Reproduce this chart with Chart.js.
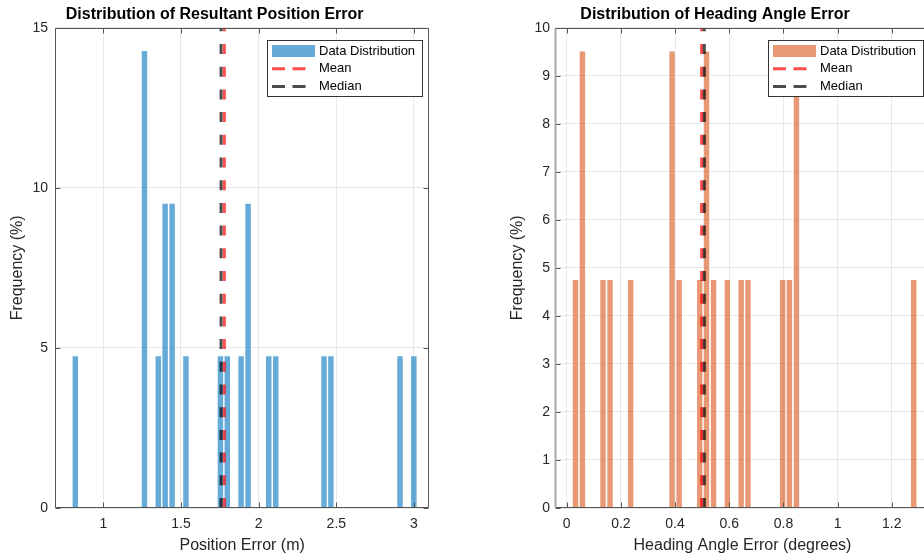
<!DOCTYPE html>
<html>
<head>
<meta charset="utf-8">
<script src="https://cdn.jsdelivr.net/npm/chart.js@4.4.1/dist/chart.umd.min.js"></script>
<style>
  html, body { margin: 0; padding: 0; background: #fff; overflow: hidden; }
  #wrap { position: relative; width: 924px; height: 560px; overflow: hidden; }
  .panel { position: absolute; top: 0; width: 440px; height: 560px; }
  #left { left: 0; }
  #right { left: 500px; }
</style>
</head>
<body>
<div id="wrap">
  <div class="panel" id="left"><canvas id="posChart" width="440" height="560"></canvas></div>
  <div class="panel" id="right"><canvas id="headChart" width="440" height="560"></canvas></div>
</div>
<script>
// resultant position error histogram (bin centres in m, frequency in %)
const posBins = [0.820, 1.265, 1.354, 1.398, 1.443, 1.532, 1.754, 1.798, 1.887, 1.932, 2.065, 2.110, 2.421, 2.465, 2.910, 2.999];
const posFreq = [4.76, 14.29, 4.76, 9.52, 9.52, 4.76, 4.76, 4.76, 4.76, 9.52, 4.76, 4.76, 4.76, 4.76, 4.76, 4.76];
const posMean = 1.779;
const posMedian = 1.758;
const posXTicks = [1, 1.5, 2, 2.5, 3];
const posYTicks = [0, 5, 10, 15];

// heading angle error histogram (bin centres in degrees, frequency in %)
const headBins = [0.0325, 0.058, 0.134, 0.160, 0.236, 0.389, 0.415, 0.491, 0.516, 0.542, 0.593, 0.644, 0.669, 0.797, 0.822, 0.848, 1.281];
const headFreq = [4.76, 9.52, 4.76, 4.76, 4.76, 9.52, 4.76, 4.76, 9.52, 4.76, 4.76, 4.76, 4.76, 4.76, 4.76, 9.52, 4.76];
const headMean = 0.498;
const headMedian = 0.508;
const headXTicks = [0, 0.2, 0.4, 0.6, 0.8, 1, 1.2];
const headYTicks = [0, 1, 2, 3, 4, 5, 6, 7, 8, 9, 10];

Chart.defaults.font.family = '"Liberation Sans", Arial, sans-serif';

// box round the axes with MATLAB style inward ticks
const axesBox = {
    id: 'axesBox',
    afterDatasetsDraw(chart, args, opts) {
        const { ctx, chartArea: a, scales: { x, y } } = chart;
        const l = Math.round(a.left) + 0.5, r = Math.round(a.right) - 0.5;
        const t = Math.round(a.top) + 0.5, b = Math.round(a.bottom) - 0.5;
        ctx.save();
        ctx.strokeStyle = opts.color;
        ctx.lineWidth = 1;
        ctx.beginPath();
        x.ticks.forEach(tk => {
            const px = Math.round(x.getPixelForValue(tk.value)) + 0.5;
            ctx.moveTo(px, b); ctx.lineTo(px, b - 5);
            ctx.moveTo(px, t); ctx.lineTo(px, t + 5);
        });
        y.ticks.forEach(tk => {
            const py = Math.round(y.getPixelForValue(tk.value)) + 0.5;
            ctx.moveTo(l, py); ctx.lineTo(l + 5, py);
            ctx.moveTo(r, py); ctx.lineTo(r - 5, py);
        });
        ctx.moveTo(l, t); ctx.lineTo(r, t);
        ctx.lineTo(r, b); ctx.lineTo(l, b);
        ctx.stroke();
        ctx.strokeStyle = opts.leftColor;
        ctx.lineWidth = opts.leftWidth;
        ctx.beginPath();
        ctx.moveTo(l, t); ctx.lineTo(l, b);
        ctx.stroke();
        ctx.restore();
    }
};

// legend box in the upper right corner of the plot
const boxLegend = {
    id: 'boxLegend',
    afterDraw(chart) {
        const { ctx, chartArea: a } = chart;
        const w = 155, h = 56;
        const x0 = Math.round(a.right - 7 - w), y0 = Math.round(a.top + 12);
        ctx.save();
        ctx.fillStyle = '#fff';
        ctx.fillRect(x0, y0, w, h);
        ctx.strokeStyle = '#333';
        ctx.lineWidth = 1;
        ctx.strokeRect(x0 + 0.5, y0 + 0.5, w, h);
        ctx.font = '13px "Liberation Sans", Arial, sans-serif';
        ctx.textBaseline = 'middle';
        chart.data.datasets.forEach((ds, i) => {
            const cy = y0 + 11 + i * 17.8;
            const sx = x0 + 5;
            if (ds.type === 'line') {
                ctx.strokeStyle = ds.borderColor;
                ctx.lineWidth = 3;
                ctx.setLineDash([13, 7.5]);
                ctx.beginPath();
                ctx.moveTo(sx, cy); ctx.lineTo(sx + 34, cy);
                ctx.stroke();
                ctx.setLineDash([]);
            } else {
                ctx.fillStyle = ds.backgroundColor;
                ctx.fillRect(sx, cy - 6, 43, 12);
            }
            ctx.fillStyle = '#000';
            ctx.fillText(ds.label, x0 + 52, cy);
        });
        ctx.restore();
    }
};

function vline(label, xv, top, color, order) {
    return {
        type: 'line',
        label: label,
        data: [{ x: xv, y: 0 }, { x: xv, y: top }],
        borderColor: color,
        borderWidth: 3,
        borderDash: [10, 12.7],
        pointRadius: 0,
        order: order
    };
}

function makeHistogram(id, cfg) {
    const yMax = cfg.yTicks[cfg.yTicks.length - 1];
    return new Chart(document.getElementById(id), {
        type: 'bar',
        data: {
            datasets: [
                {
                    label: 'Data Distribution',
                    data: cfg.bins.map((b, i) => ({ x: b, y: cfg.freq[i] })),
                    backgroundColor: cfg.barColor,
                    borderColor: 'rgba(255,255,255,0.45)',
                    borderWidth: 1,
                    barPercentage: 1,
                    categoryPercentage: 1,
                    order: 3
                },
                vline('Mean', cfg.mean, yMax, 'rgba(255,0,0,0.7)', 2),
                vline('Median', cfg.median, yMax, 'rgba(0,0,0,0.7)', 1)
            ]
        },
        options: {
            responsive: false,
            animation: false,
            events: [],
            layout: { padding: { left: 0, right: cfg.padRight, top: 0, bottom: 0 } },
            plugins: {
                legend: { display: false },
                tooltip: { enabled: false },
                title: {
                    display: true,
                    text: cfg.title,
                    color: '#000',
                    font: { size: 16, weight: 'bold' },
                    padding: { top: 5, bottom: 3.5 }
                },
                axesBox: { color: '#555', leftColor: cfg.leftAxisColor, leftWidth: cfg.leftAxisWidth }
            },
            scales: {
                x: {
                    type: 'linear',
                    min: cfg.xMin,
                    max: cfg.xMax,
                    offset: false,
                    grid: { color: 'rgba(0,0,0,0.09)', drawTicks: false, offset: false },
                    border: { display: false },
                    afterBuildTicks: s => { s.ticks = cfg.xTicks.map(v => ({ value: v })); },
                    afterFit: s => { s.height = 52; },
                    ticks: { padding: 8, color: '#262626', font: { size: 14 }, callback: v => String(v) },
                    title: {
                        display: true, text: cfg.xTitle, color: '#262626',
                        font: { size: 16 }, padding: { top: 0, bottom: 4.4 }
                    }
                },
                y: {
                    min: 0,
                    max: yMax,
                    grid: { color: 'rgba(0,0,0,0.09)', drawTicks: false },
                    border: { display: false },
                    afterBuildTicks: s => { s.ticks = cfg.yTicks.map(v => ({ value: v })); },
                    afterFit: s => { s.width = 55; },
                    ticks: { padding: cfg.yPad, color: '#262626', font: { size: 14 }, callback: v => String(v) },
                    title: {
                        display: true, text: 'Frequency (%)', color: '#262626',
                        font: { size: 16 }, padding: { top: 8.4, bottom: 0 }
                    }
                }
            }
        },
        plugins: [axesBox, boxLegend]
    });
}

makeHistogram('posChart', {
    title: 'Distribution of Resultant Position Error',
    xTitle: 'Position Error (m)',
    bins: posBins, freq: posFreq, mean: posMean, median: posMedian,
    xTicks: posXTicks, yTicks: posYTicks,
    xMin: 0.689, xMax: 3.0985,
    barColor: 'rgba(0,114,189,0.6)',
    padRight: 10.7, yPad: 7,
    leftAxisColor: '#555', leftAxisWidth: 1
});

makeHistogram('headChart', {
    title: 'Distribution of Heading Angle Error',
    xTitle: 'Heading Angle Error (degrees)',
    bins: headBins, freq: headFreq, mean: headMean, median: headMedian,
    xTicks: headXTicks, yTicks: headYTicks,
    xMin: -0.0432, xMax: 1.341,
    barColor: 'rgba(217,83,25,0.6)',
    padRight: 10, yPad: 5,
    leftAxisColor: '#a8a8a8', leftAxisWidth: 2
});
</script>
</body>
</html>
